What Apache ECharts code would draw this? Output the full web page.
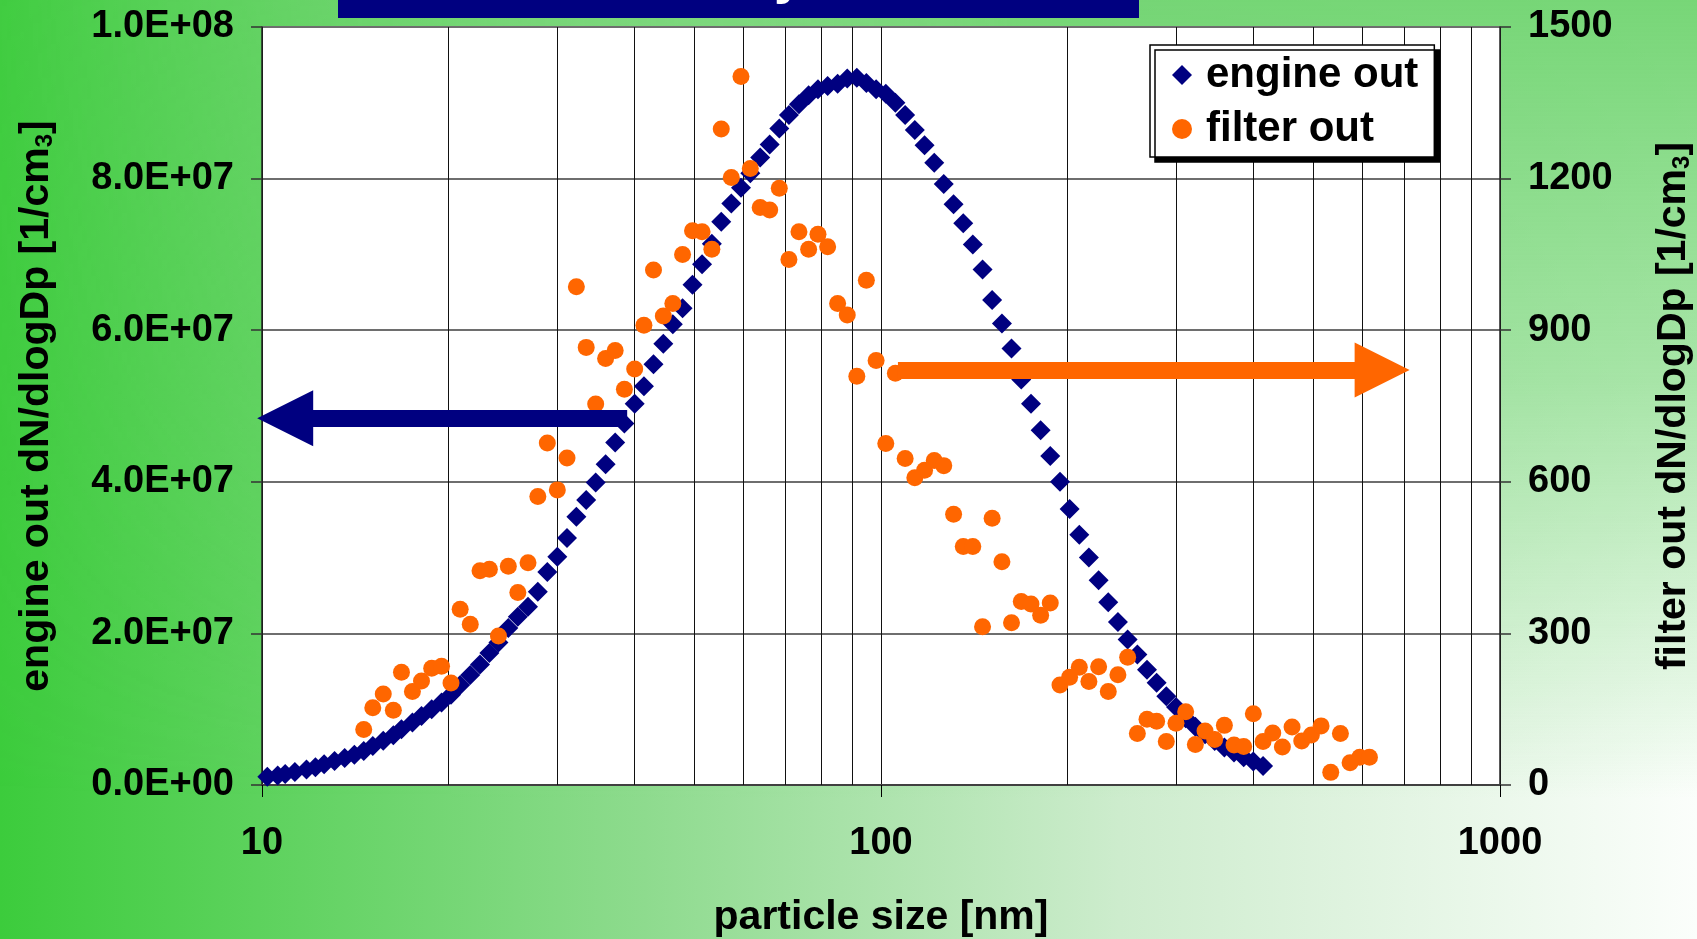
<!DOCTYPE html>
<html>
<head>
<meta charset="utf-8">
<script src="https://cdn.jsdelivr.net/npm/echarts@6/dist/echarts.min.js"></script>
<style>
  html, body { margin: 0; padding: 0; }
  .page {
    position: relative;
    width: 1697px;
    height: 939px;
    overflow: hidden;
    background: linear-gradient(to right, #3ccc3c 0%, #8edb8e 38%, #cdeccd 66%, #fbfefb 100%);
  }
  .shade {
    position: absolute;
    inset: 0;
    background: linear-gradient(to bottom, rgba(112,212,112,0.95) 0%, rgba(112,212,112,0.6) 40%, rgba(112,212,112,0) 85%);
    -webkit-mask-image: linear-gradient(to right, rgba(0,0,0,0.1), #000 60%);
    mask-image: linear-gradient(to right, rgba(0,0,0,0.1), #000 60%);
  }
  #chart { position: absolute; left: 0; top: 0; width: 1697px; height: 939px; }
</style>
</head>
<body>
<div class="page">
  <div class="shade"></div>
  <div id="chart"></div>
</div>
<script>
// particle size channels [nm], 64 per decade
const sizes = [
  10.2, 10.6, 10.9, 11.3, 11.8, 12.2, 12.6, 13.1, 13.6, 14.1,
  14.6, 15.1, 15.7, 16.3, 16.8, 17.5, 18.1, 18.8, 19.5, 20.2,
  20.9, 21.7, 22.5, 23.3, 24.1, 25.0, 25.9, 26.9, 27.9, 28.9,
  30.0, 31.1, 32.2, 33.4, 34.6, 35.9, 37.2, 38.5, 40.0, 41.4,
  42.9, 44.5, 46.1, 47.8, 49.6, 51.4, 53.3, 55.2, 57.3, 59.4,
  61.5, 63.8, 66.1, 68.5, 71.0, 73.7, 76.4, 79.1, 82.0, 85.1,
  88.2, 91.4, 94.7, 98.2, 101.8, 105.5, 109.4, 113.4, 117.6, 121.9,
  126.3, 131.0, 135.8, 140.7, 145.9, 151.2, 156.8, 162.5, 168.5, 174.7,
  181.1, 187.7, 194.6, 201.7, 209.1, 216.7, 224.7, 232.9, 241.4, 250.3,
  259.5, 269.0, 278.8, 289.0, 299.6, 310.6, 322.0, 333.8, 346.0, 358.7,
  371.8, 385.4, 399.5, 414.2, 429.4, 445.1, 461.4, 478.3, 495.8, 514.0,
  532.8, 552.3, 572.5, 593.5, 615.3
]

// engine out dN/dlogDp [1/cm3] (left axis)
const engineOut = [
  1.10e6, 1.25e6, 1.45e6, 1.70e6, 2.05e6, 2.35e6, 2.75e6, 3.15e6, 3.55e6, 4.00e6,
  4.50e6, 5.15e6, 5.85e6, 6.55e6, 7.35e6, 8.25e6, 9.10e6, 1.00e7, 1.09e7, 1.19e7,
  1.32e7, 1.45e7, 1.59e7, 1.74e7, 1.88e7, 2.07e7, 2.22e7, 2.35e7, 2.55e7, 2.81e7,
  3.01e7, 3.26e7, 3.54e7, 3.76e7, 3.99e7, 4.23e7, 4.52e7, 4.77e7, 5.03e7, 5.26e7,
  5.55e7, 5.82e7, 6.08e7, 6.29e7, 6.60e7, 6.87e7, 7.14e7, 7.43e7, 7.67e7, 7.88e7,
  8.07e7, 8.28e7, 8.45e7, 8.66e7, 8.84e7, 8.98e7, 9.10e7, 9.18e7, 9.22e7, 9.25e7,
  9.32e7, 9.33e7, 9.26e7, 9.18e7, 9.12e7, 9.00e7, 8.84e7, 8.64e7, 8.44e7, 8.21e7,
  7.93e7, 7.66e7, 7.41e7, 7.13e7, 6.80e7, 6.40e7, 6.09e7, 5.76e7, 5.35e7, 5.03e7,
  4.68e7, 4.34e7, 4.00e7, 3.64e7, 3.30e7, 3.00e7, 2.70e7, 2.41e7, 2.15e7, 1.92e7,
  1.72e7, 1.52e7, 1.35e7, 1.17e7, 1.03e7, 8.80e6, 7.70e6, 6.70e6, 5.80e6, 4.95e6,
  4.30e6, 3.65e6, 3.10e6, 2.50e6, null, null, null, null, null, null,
  null, null, null, null, null
]

// filter out dN/dlogDp [1/cm3] (right axis)
const filterOut = [
  null, null, null, null, null, null, null, null, null, null,
  110, 153, 180, 148, 223, 185, 206, 231, 235, 202,
  348, 318, 424, 427, 295, 433, 381, 440, 571, 677,
  584, 647, 986, 866, 754, 844, 860, 783, 823, 910,
  1019, 928, 953, 1050, 1097, 1095, 1060, 1298, 1202, 1402,
  1220, 1143, 1138, 1181, 1040, 1095, 1060, 1090, 1065, 953,
  930, 809, 999, 840, 676, 815, 646, 608, 623, 642,
  632, 536, 472, 472, 313, 528, 442, 321, 363, 358,
  336, 360, 198, 213, 233, 205, 234, 185, 218, 253,
  102, 130, 126, 86, 122, 145, 80, 107, 90, 118,
  79, 76, 141, 86, 103, 75, 115, 87, 99, 117,
  25, 102, 44, 55, 55
]

// minor log grid lines
const minorGrid = [20, 30, 40, 50, 60, 70, 80, 90, 200, 300, 400, 500, 600, 700, 800, 900]

// arrows pointing to the axis of each series: [from, to]
const engineArrow = [[38.9, 4.84e7], [10.9, 4.84e7]]
const filterArrow = [[106.5, 821], [645, 821]]

const FONT = '"Liberation Sans", Arial, sans-serif'
const NAVY = '#000080'
const ORANGE = '#ff6600'

function sci(v) {
  if (v === 0) return '0.0E+00'
  const e = Math.floor(Math.log10(v) + 1e-9)
  const m = v / Math.pow(10, e)
  return m.toFixed(1) + 'E+' + String(e).padStart(2, '0')
}

const axisText = { fontSize: 38, fontWeight: 'bold', color: '#000', fontFamily: FONT }
const nameText = {
  fontSize: 41, fontWeight: 'bold', color: '#000', fontFamily: FONT,
  rich: { s: { fontSize: 24, fontWeight: 'bold', color: '#000', fontFamily: FONT, verticalAlign: 'bottom' } }
}

const chart = echarts.init(document.getElementById('chart'))
const option = {
  animation: false,
  backgroundColor: 'transparent',
  grid: {
    left: 262, right: 197, top: 27, bottom: 154,
    outerBoundsMode: 'none',
    containLabel: false,
    show: true, backgroundColor: '#fff', borderWidth: 0
  },
  legend: {
    data: ['engine out', 'filter out'],
    orient: 'vertical',
    left: 1150,
    top: 45,
    padding: [9, 16, 7, 22],
    itemWidth: 20,
    itemHeight: 20,
    itemGap: 12,
    selectedMode: false,
    backgroundColor: '#fff',
    borderColor: '#000',
    borderWidth: 1.5,
    shadowColor: '#000',
    shadowBlur: 0,
    shadowOffsetX: 5,
    shadowOffsetY: 5,
    textStyle: { fontSize: 42, fontWeight: 'bold', color: '#000', fontFamily: FONT, padding: [0, 0, 0, 9] }
  },
  xAxis: {
    type: 'log',
    logBase: 10,
    min: 10,
    max: 1000,
    name: 'particle size [nm]',
    nameLocation: 'middle',
    nameGap: 112,
    nameTextStyle: nameText,
    axisLine: { show: true, lineStyle: { color: '#404040', width: 2 } },
    axisTick: { show: true, length: 12, lineStyle: { color: '#000', width: 1 } },
    axisLabel: { ...axisText, margin: 40, formatter: v => String(Math.round(v)) },
    splitLine: { show: true, lineStyle: { color: '#111', width: 1 } },
    minorTick: { show: false },
    minorSplitLine: { show: false }
  },
  yAxis: [
    {
      type: 'value',
      min: 0,
      max: 1e8,
      interval: 2e7,
      name: 'engine out dN/dlogDp [1/cm{s|3}]',
      nameLocation: 'middle',
      nameRotate: 90,
      nameGap: 205,
      nameTextStyle: nameText,
      axisLine: { show: true, lineStyle: { color: '#222', width: 1.5 } },
      axisTick: { show: true, length: 11, lineStyle: { color: '#333', width: 1.5 } },
      axisLabel: { ...axisText, margin: 28, formatter: sci },
      splitLine: { show: true, lineStyle: { color: '#6e6e6e', width: 2 } }
    },
    {
      type: 'value',
      min: 0,
      max: 1500,
      interval: 300,
      position: 'right',
      name: 'filter out dN/dlogDp [1/cm{s|3}]',
      nameLocation: 'middle',
      nameRotate: 90,
      nameGap: 153,
      nameTextStyle: nameText,
      axisLine: { show: true, lineStyle: { color: '#222', width: 1.5 } },
      axisTick: { show: true, length: 11, lineStyle: { color: '#333', width: 1.5 } },
      axisLabel: { ...axisText, margin: 28, formatter: v => String(v) },
      splitLine: { show: false }
    }
  ],
  graphic: [
    { type: 'rect', left: 338, top: 0, shape: { width: 801, height: 18 }, style: { fill: NAVY }, z: 10 },
    {
      type: 'text', x: 774, y: 5, z: 11,
      style: {
        text: 'y', fill: '#fff', font: 'bold 54px ' + FONT,
        verticalAlign: 'bottom', textShadowColor: '#000', textShadowOffsetX: 2, textShadowOffsetY: 2
      }
    }
  ],
  series: [
    {
      name: 'gridlines',
      type: 'scatter',
      data: [],
      silent: true,
      markLine: {
        z: 1,
        silent: true,
        symbol: ['none', 'none'],
        label: { show: false },
        lineStyle: { color: '#111', width: 1, type: 'solid' },
        emphasis: { disabled: true },
        data: minorGrid.map(v => ({ xAxis: v }))
      }
    },
    {
      name: 'engine out',
      type: 'scatter',
      yAxisIndex: 0,
      symbol: 'diamond',
      symbolSize: 20,
      clip: false,
      itemStyle: { color: NAVY, opacity: 1 },
      data: sizes.map((s, i) => [s, engineOut[i]]).filter(d => d[1] !== null),
      markLine: {
        silent: true,
        symbol: ['none', 'triangle'],
        symbolSize: 56,
        label: { show: false },
        lineStyle: { color: NAVY, width: 17, type: 'solid', opacity: 1 },
        emphasis: { disabled: true },
        data: [[{ coord: engineArrow[0] }, { coord: engineArrow[1] }]]
      }
    },
    {
      name: 'filter out',
      type: 'scatter',
      yAxisIndex: 1,
      symbol: 'circle',
      symbolSize: 17,
      clip: false,
      itemStyle: { color: ORANGE, opacity: 1 },
      data: sizes.map((s, i) => [s, filterOut[i]]).filter(d => d[1] !== null),
      markLine: {
        silent: true,
        symbol: ['none', 'triangle'],
        symbolSize: 55,
        label: { show: false },
        lineStyle: { color: ORANGE, width: 17, type: 'solid', opacity: 1 },
        emphasis: { disabled: true },
        data: [[{ coord: filterArrow[0] }, { coord: filterArrow[1] }]]
      }
    }
  ]
}
chart.setOption(option)
</script>
</body>
</html>
